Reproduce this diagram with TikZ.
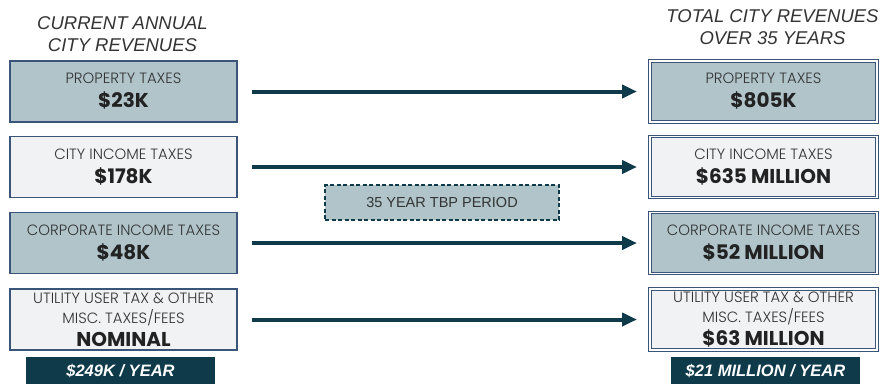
\documentclass[tikz,border=0pt]{standalone}
\usepackage{fontspec}
\setmainfont{Liberation Sans}
\IfFontExistsTF{Poppins Light}{\newfontfamily\boxfont{Poppins Light}}{\newfontfamily\boxfont{Poppins}}
\newfontfamily\numfont{Poppins}
\usetikzlibrary{arrows.meta}
\definecolor{slate}{HTML}{B0C4CA}
\definecolor{pale}{HTML}{F1F2F4}
\definecolor{edge}{HTML}{3B5479}
\definecolor{deepteal}{HTML}{0E3A4A}
\definecolor{ink}{HTML}{333333}
\definecolor{inkdark}{HTML}{222222}
\tikzset{
  lbox/.style={draw=edge, line width=1.3pt, minimum width=227pt, minimum height=61pt,
    inner sep=0pt, outer sep=0pt, align=center, text=ink, font=\boxfont\fontsize{14.9}{20}\selectfont},
  rbox/.style={lbox, line width=1pt, double=white, double distance=1.6pt},
  dark/.style={fill=slate},
  light/.style={fill=pale},
  flow/.style={draw=deepteal, line width=4pt, -{Triangle[length=15pt,width=13pt]},
    shorten <=15pt, shorten >=13pt},
  header/.style={align=center, inner sep=0pt, text=ink,
    font=\fontsize{18.5}{22.5}\selectfont\itshape},
  total/.style={fill=deepteal, text=white, minimum width=189pt, minimum height=27pt,
    inner sep=0pt, font=\fontsize{16.5}{20}\selectfont\bfseries\itshape},
  period/.style={fill=slate, draw=deepteal, line width=2pt, dash pattern=on 4pt off 2.5pt,
    minimum width=234pt, minimum height=35pt, inner sep=0pt, text=ink,
    font=\fontsize{14.5}{17}\selectfont}
}
\newcommand{\bignum}[1]{{\numfont\fontsize{20}{22}\selectfont\bfseries\color{inkdark}#1}}
\begin{document}
\begin{tikzpicture}[x=1pt,y=-1pt]
\useasboundingbox (0,0) rectangle (884,386);
\node[header, anchor=north] (hl) at (122.5,16) {CURRENT ANNUAL\\CITY REVENUES};
\node[header, anchor=north] (hr) at (772.5,9) {TOTAL CITY REVENUES\\OVER 35 YEARS};

\node[lbox, dark]  (l1) at (123.5,91.5) {PROPERTY TAXES\\[4pt]\bignum{\$23K}};
\node[lbox, light] (l2) at (123.5,167) {CITY INCOME TAXES\\[4pt]\bignum{\$178K}};
\node[lbox, dark]  (l3) at (123.5,243) {CORPORATE INCOME TAXES\\[4pt]\bignum{\$48K}};
\node[lbox, light] (l4) at (123.5,319.5) {UTILITY USER TAX \& OTHER\\MISC. TAXES/FEES\\[3pt]\bignum{NOMINAL}};

\node[rbox, dark]  (r1) at (763.5,91.5) {PROPERTY TAXES\\[4pt]\bignum{\$805K}};
\node[rbox, light] (r2) at (763.5,167) {CITY INCOME TAXES\\[4pt]\bignum{\$635 MILLION}};
\node[rbox, dark]  (r3) at (763.5,243) {CORPORATE INCOME TAXES\\[4pt]\bignum{\$52 MILLION}};
\node[rbox, light] (r4) at (763.5,319.5) {UTILITY USER TAX \& OTHER\\MISC. TAXES/FEES\\[3pt]\bignum{\$63 MILLION}};

\draw[flow] (l1) -- (r1);
\draw[flow] (l2) -- (r2);
\draw[flow] (l3) -- (r3);
\draw[flow] (l4) -- (r4);

\node[period] (tbp) at (442,202.5) {35 YEAR TBP PERIOD};

\node[total] (tl) at (120.5,370.5) {\$249K / YEAR};
\node[total] (tr) at (765.5,370.5) {\$21 MILLION / YEAR};
\end{tikzpicture}
\end{document}
